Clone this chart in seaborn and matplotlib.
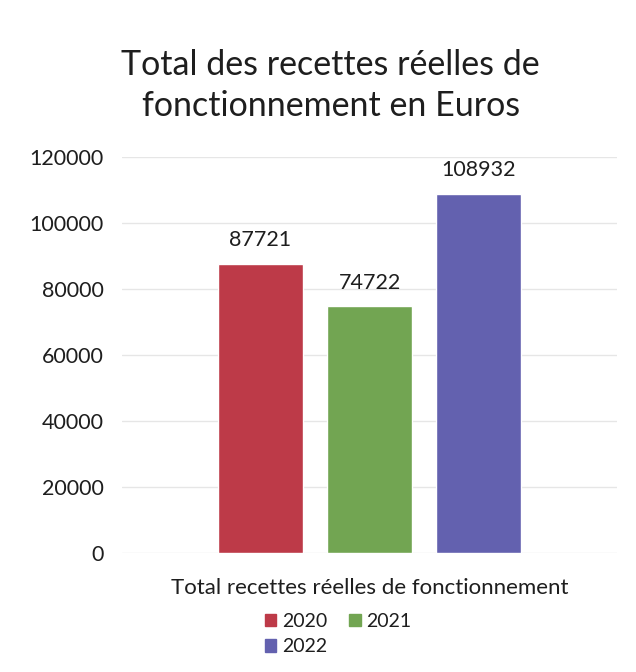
import matplotlib
matplotlib.use("Agg")
import matplotlib.pyplot as plt
import seaborn as sns
import pandas as pd

category = "Total recettes réelles de fonctionnement"
years = ["2020", "2021", "2022"]
values = [87721, 74722, 108932]
colors = ["#BD3A48", "#72A552", "#6361AF"]
yticks = [0, 20000, 40000, 60000, 80000, 100000, 120000]

df = pd.DataFrame({"cat": [category] * 3, "year": years, "value": values})

sns.set_theme(style="white")
plt.rcParams["font.family"] = ["Lato", "DejaVu Sans"]

fig = plt.figure(figsize=(6.36, 6.72), dpi=100)
ax = fig.add_axes([122 / 636, 1 - 553 / 672, (617 - 122) / 636, (553 - 157) / 672])

sns.barplot(data=df, x="cat", y="value", hue="year", palette=colors,
            width=0.8, gap=0.22, ax=ax, saturation=1, errorbar=None)

ax.set_ylim(0, 120000)
ax.set_xlim(-0.605, 0.605)
ax.set_yticks(yticks)
ax.set_yticklabels([str(v) for v in yticks], fontsize=15.5, color="#1e1e1e")
ax.yaxis.grid(True, color="#e6e6e6", linewidth=1)
ax.set_axisbelow(True)
for s in ax.spines.values():
    s.set_visible(False)
ax.tick_params(axis="y", length=0, pad=13)
ax.tick_params(axis="x", length=0, pad=18)
ax.set_xticks([0])
ax.set_xticklabels([category], fontsize=16, color="#1e1e1e")
ax.set_xlabel("")
ax.set_ylabel("")

for cont in ax.containers:
    ax.bar_label(cont, fmt="%d", padding=10, fontsize=15.5, color="#1e1e1e")

fig.text(0.52, 1 - 65 / 672, "Total des recettes réelles de", ha="center", va="center",
         fontsize=24.5, color="#1e1e1e")
fig.text(0.52, 1 - 106 / 672, "fonctionnement en Euros", ha="center", va="center",
         fontsize=24.5, color="#1e1e1e")

ax.get_legend().remove()
handles = [plt.Rectangle((0, 0), 1, 1, color=c) for c in colors]
order = [0, 2, 1]
fig.legend([handles[i] for i in order], [years[i] for i in order], ncol=2,
           loc="upper left", bbox_to_anchor=(255 / 636, 1 - 603 / 672),
           frameon=False, fontsize=14, handlelength=0.6, handleheight=0.6,
           handletextpad=0.3, columnspacing=1.1, labelspacing=0.45, borderpad=0,
           labelcolor="#1e1e1e")

fig.savefig("out.png", dpi=100, facecolor="white")
